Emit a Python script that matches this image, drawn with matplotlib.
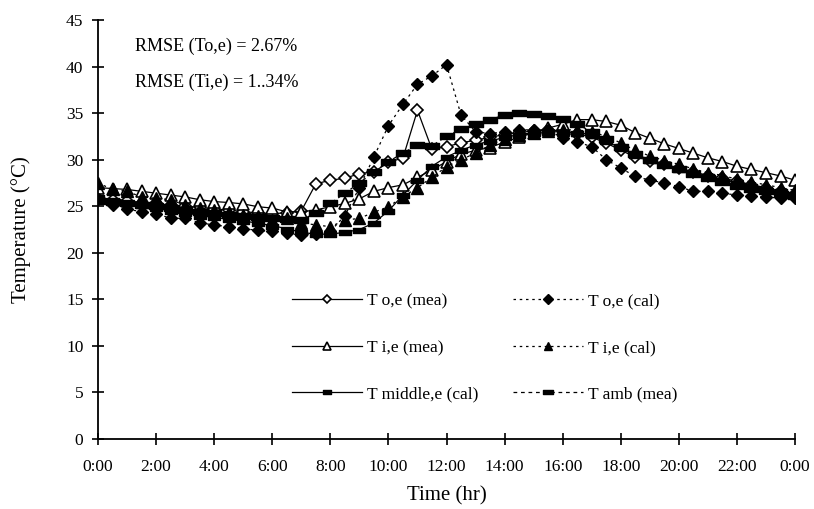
import matplotlib
matplotlib.use("Agg")
import matplotlib.pyplot as plt
from matplotlib.path import Path
import numpy as np

# half-hourly readings, 0:00 -> 24:00
hours = np.arange(0, 24.5, 0.5)

to_mea = [25.8, 25.7, 25.6, 25.4, 25.3, 25.1, 25.0, 24.9, 24.7, 24.6,
          24.4, 24.3, 24.2, 24.3, 24.5, 27.4, 27.8, 28.0, 28.5, 28.7,
          29.7, 30.2, 35.3, 31.1, 31.4, 31.8, 32.1, 32.4, 32.7, 32.9,
          33.1, 33.2, 33.1, 32.8, 32.4, 31.8, 31.0, 30.3, 29.9, 29.5,
          29.1, 28.7, 28.3, 28.0, 27.7, 27.3, 27.0, 26.6, 26.3]

to_cal = [25.75, 25.1, 24.7, 24.4, 24.2, 23.7, 23.7, 23.2, 23.0, 22.8,
          22.6, 22.4, 22.3, 22.1, 21.9, 22.0, 22.3, 24.0, 27.0, 30.3,
          33.65, 35.95, 38.1, 39.0, 40.2, 34.8, 33.0, 32.8, 33.0, 33.2,
          33.2, 33.2, 32.3, 31.9, 31.4, 30.0, 29.1, 28.2, 27.8, 27.5,
          27.1, 26.6, 26.6, 26.4, 26.2, 26.1, 26.0, 25.85, 25.85]

ti_mea = [27.0, 26.9, 26.8, 26.6, 26.4, 26.2, 26.0, 25.7, 25.5, 25.4,
          25.25, 24.95, 24.8, 24.4, 24.4, 24.6, 24.95, 25.3, 25.8, 26.6,
          27.0, 27.3, 28.1, 28.9, 29.8, 30.6, 31.0, 31.3, 31.9, 32.4,
          32.9, 33.4, 33.8, 34.3, 34.3, 34.1, 33.7, 32.9, 32.3, 31.7,
          31.2, 30.7, 30.2, 29.8, 29.3, 28.95, 28.6, 28.25, 27.8]

ti_cal = [27.5, 26.8, 26.6, 26.0, 25.85, 25.7, 25.1, 24.8, 24.6, 24.4,
          24.05, 23.9, 23.5, 23.7, 23.2, 23.0, 22.8, 23.5, 23.7, 24.35,
          24.95, 26.0, 27.0, 28.1, 29.25, 30.0, 30.7, 31.6, 32.2, 32.6,
          32.9, 33.1, 33.2, 33.2, 33.0, 32.5, 31.8, 31.0, 30.4, 29.9,
          29.5, 29.0, 28.6, 28.3, 27.9, 27.6, 27.3, 27.0, 26.7]

tmid_cal = [26.0, 25.7, 25.4, 25.1, 24.8, 24.5, 24.3, 24.0, 23.8, 23.6,
            23.4, 23.2, 22.9, 22.6, 22.2, 22.0, 22.0, 22.2, 22.5, 23.2,
            24.5, 26.2, 27.8, 29.3, 30.3, 31.0, 31.6, 32.0, 32.4, 32.7,
            32.9, 33.0, 33.0, 32.9, 32.7, 32.0, 31.2, 30.5, 30.0, 29.5,
            29.0, 28.6, 28.2, 27.8, 27.5, 27.2, 26.9, 26.6, 26.3]

tamb_mea = [25.6, 25.5, 25.3, 25.1, 25.0, 24.8, 24.6, 24.4, 24.3, 24.1,
            24.0, 23.8, 23.7, 23.6, 23.5, 24.3, 25.3, 26.4, 27.5, 28.7,
            29.8, 30.7, 31.6, 31.5, 32.5, 33.3, 33.8, 34.3, 34.8, 35.05,
            34.9, 34.7, 34.4, 33.8, 33.0, 32.2, 31.4, 30.6, 30.0, 29.4,
            29.0, 28.5, 28.0, 27.6, 27.2, 26.9, 26.6, 26.3, 26.1]

tick_hours = np.arange(0, 25, 2)
tick_labels = [f"{h % 24}:00" for h in tick_hours]

plt.rcParams["font.family"] = ["Liberation Serif", "DejaVu Serif"]

# flat little bar used for the Tmiddle / Tamb markers
bar = Path([(-1, -0.45), (1, -0.45), (1, 0.45), (-1, 0.45), (-1, -0.45)],
           [Path.MOVETO, Path.LINETO, Path.LINETO, Path.LINETO, Path.CLOSEPOLY])

fig = plt.figure(figsize=(8.14, 5.09), dpi=100)
ax = fig.add_axes((0.1204, 0.1375, 0.8563, 0.8232))

lw = 0.9
ax.plot(hours, to_mea, "-", color="black", lw=lw, marker="D", ms=6,
        mfc="white", mec="black", mew=1.2, label="T o,e (mea)")
ax.plot(hours, ti_mea, "-", color="black", lw=lw, marker="^", ms=8,
        mfc="white", mec="black", mew=1.2, label="T i,e (mea)")
ax.plot(hours, tmid_cal, "-", color="black", lw=lw, marker=bar, ms=8,
        mfc="black", mec="black", label="T middle,e (cal)")
ax.plot(hours, to_cal, color="black", lw=lw, ls=(0, (2, 3)), marker="D", ms=6.5,
        mfc="black", mec="black", label="T o,e (cal)")
ax.plot(hours, ti_cal, color="black", lw=lw, ls=(0, (2, 3)), marker="^", ms=8,
        mfc="black", mec="black", label="T i,e (cal)")
ax.plot(hours, tamb_mea, color="black", lw=lw, ls=(0, (3, 3)), marker=bar, ms=10,
        mfc="black", mec="black", label="T amb (mea)")

ax.set_xlim(0, 24)
ax.set_ylim(0, 45)
ax.set_xticks(tick_hours)
ax.set_xticklabels(tick_labels)
ax.set_yticks(np.arange(0, 46, 5))
ax.tick_params(direction="inout", length=9, width=1.2, labelsize=12.5, pad=6)
ax.tick_params(axis="x", pad=10)
for side in ("top", "right"):
    ax.spines[side].set_visible(False)
for side in ("left", "bottom"):
    ax.spines[side].set_linewidth(1.3)

ax.set_xlabel("Time (hr)", fontsize=15, labelpad=8)
ax.set_ylabel("Temperature (\u00b0C)", fontsize=15, labelpad=25)

ax.text(0.053, 0.925, "RMSE (To,e) = 2.67%", transform=ax.transAxes, fontsize=13)
ax.text(0.053, 0.84, "RMSE (Ti,e) = 1..34%", transform=ax.transAxes, fontsize=13)

ax.legend(loc="lower center", bbox_to_anchor=(0.555, 0.05), ncol=2, frameon=False,
          fontsize=12.5, labelspacing=1.75, columnspacing=2.0, handlelength=4.0,
          handletextpad=0.3, markerscale=0.75)

fig.savefig("out.png", dpi=100)
